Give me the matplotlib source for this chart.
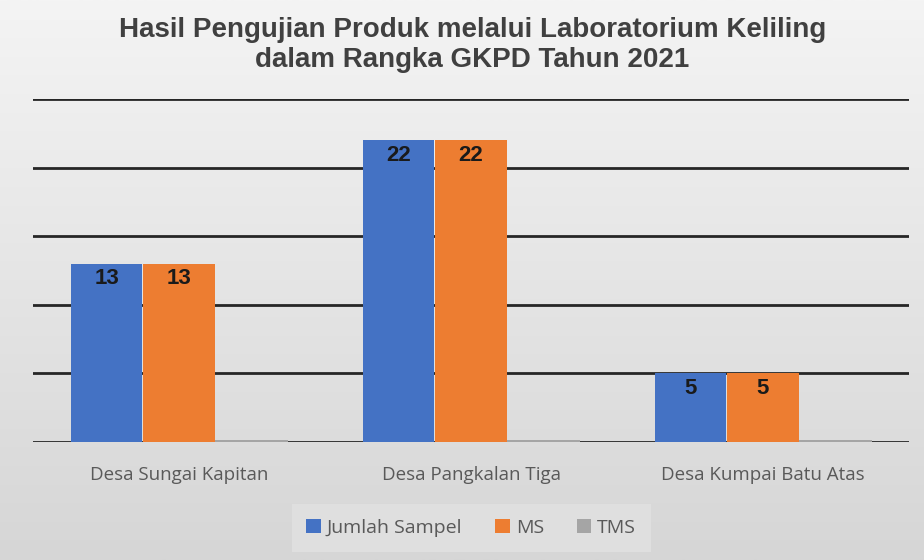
import matplotlib.pyplot as plt
import numpy as np

categories = ["Desa Sungai Kapitan", "Desa Pangkalan Tiga", "Desa Kumpai Batu Atas"]
series_names = ["Jumlah Sampel", "MS", "TMS"]
jumlah_sampel = [13, 22, 5]
ms = [13, 22, 5]
tms = [0, 0, 0]
y_ticks = [0, 5, 10, 15, 20, 25]

colors = ["#4472C4", "#ED7D31", "#A5A5A5"]
title = "Hasil Pengujian Produk melalui Laboratorium Keliling\ndalam Rangka GKPD Tahun 2021"

fig = plt.figure(figsize=(9.24, 5.6), dpi=100)

# gradient background for the whole chart area
bg = fig.add_axes([0, 0, 1, 1], zorder=-10)
grad = np.linspace(0, 1, 256).reshape(-1, 1)
bg.imshow(grad, aspect="auto", cmap=plt.matplotlib.colors.LinearSegmentedColormap.from_list(
    "bg", ["#f4f4f4", "#d6d6d6"]), extent=[0, 1, 0, 1], origin="upper")
bg.set_xlim(0, 1)
bg.set_ylim(0, 1)
bg.axis("off")

ax = fig.add_axes([33 / 924, 1 - 442 / 560, 876 / 924, 343 / 560])
ax.patch.set_alpha(0)

x = np.arange(len(categories))
width = 0.248
all_series = [jumlah_sampel, ms, tms]
for i, (vals, name) in enumerate(zip(all_series, series_names)):
    pos = x + (i - 1) * width
    bars = ax.bar(pos, vals, width=width * 0.985, color=colors[i], label=name,
                  zorder=2, edgecolor="none")
    if i == 2:
        # zero bars show up as a thin gray strip on the axis
        ax.bar(pos, [0.12] * len(vals), width=width, color=colors[i], zorder=3)
        continue
    for b, v in zip(bars, vals):
        ax.text(b.get_x() + b.get_width() / 2, v - 1.1, str(v), ha="center", va="center",
                fontsize=16, fontweight="bold", color="#1a1a1a", family="Liberation Sans",
                zorder=4)

ax.set_xlim(-0.5, len(categories) - 0.5)
ax.set_ylim(0, 25)
ax.set_yticks(y_ticks)
for t in y_ticks:
    ax.axhline(t, color="#262626", lw=2, zorder=1)
ax.tick_params(left=False, bottom=False, labelleft=False)
ax.set_xticks(x)
ax.set_xticklabels(categories, fontsize=13.5, color="#595959", family="Open Sans")
ax.tick_params(axis="x", pad=14)
for s in ax.spines.values():
    s.set_visible(False)

fig.text(0.511, 0.97, title, ha="center", va="top", fontsize=20, fontweight="bold",
         color="#404040", family="Liberation Sans", linespacing=1.2)

leg = fig.legend(loc="center", bbox_to_anchor=(0.51, 1 - 528 / 560), ncol=3,
                 frameon=True, handlelength=0.75, handleheight=0.75,
                 handletextpad=0.3, columnspacing=1.7, borderpad=0.45,
                 prop={"family": "Open Sans", "size": 14})
leg.get_frame().set_facecolor("#e2e2e2")
leg.get_frame().set_edgecolor("none")
leg.get_frame().set_boxstyle("square")
for t in leg.get_texts():
    t.set_color("#595959")

fig.savefig("out.png", dpi=100)
